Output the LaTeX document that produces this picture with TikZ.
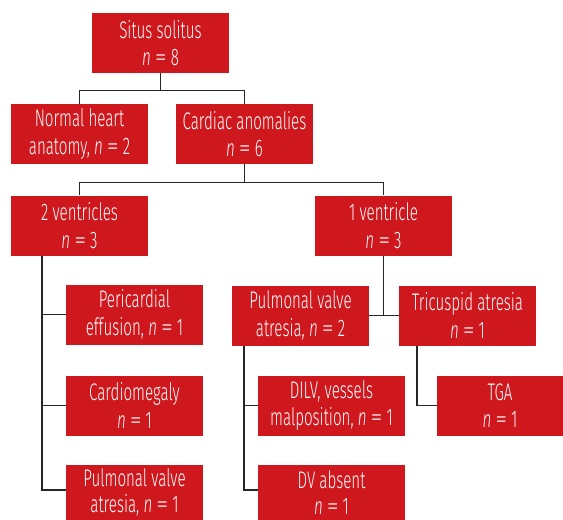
\documentclass[tikz,border=0pt]{standalone}
\usepackage{fontspec}
\setmainfont{Fira Sans Light}[FakeStretch=0.63]
\usepackage{xcolor}
\usepackage{graphicx}
\usepackage{tikz}
\definecolor{boxred}{RGB}{206,24,30}
\tikzset{
  box/.style={fill=boxred, text=white, align=center, minimum width=137pt,
    minimum height=60pt, inner sep=0pt, font=\fontsize{24}{27.5}\selectfont},
  lowbox/.style={box, minimum height=55pt},
  link/.style={line width=1.3pt, black!85}
}
\newcommand{\nval}[1]{\textit{n}\,\scalebox{1.6}[1]{=}\,#1}

\begin{document}
\begin{tikzpicture}[x=1pt,y=-1pt]
\useasboundingbox (0,0) rectangle (563,520);
\clip (0,0) rectangle (563,520);
% Top level
\node[box] (situs) at (160.5,43) {Situs solitus\\\nval{8}};
\node[box] (normal) at (79.5,134) {Normal heart\\anatomy, \nval{2}};
\node[box] (cardiac) at (244.5,134) {Cardiac anomalies\\\nval{6}};

% Ventricles
\node[box] (twov) at (79.5,225.5) {2 ventricles\\\nval{3}};
\node[box] (onev) at (383.5,225.5) {1 ventricle\\\nval{3}};

% Two ventricles branch
\node[box] (peri) at (134.5,314.5) {Pericardial\\effusion, \nval{1}};
\node[box] (cardio) at (134.5,405.5) {Cardiomegaly\\\nval{1}};
\node[lowbox] (pvaone) at (134.5,492.5) {Pulmonal valve\\[-1pt]atresia, \nval{1}};

% One ventricle branch
\node[box] (pvatwo) at (300.5,315.5) {Pulmonal valve\\atresia, \nval{2}};
\node[box] (tricus) at (467.5,315.5) {Tricuspid atresia\\\nval{1}};
\node[box, minimum width=147pt] (dilv) at (331.5,405.5) {DILV, vessels\\malposition, \nval{1}};
\node[lowbox, minimum width=147pt] (dvabs) at (331.5,492.5) {DV absent\\[-1pt]\nval{1}};
\node[box, minimum width=126pt] (tga) at (500,405.5) {TGA\\\nval{1}};

% Connectors
\draw[link] (situs.south) -- ++(0,17) coordinate (topbus);
\draw[link] (normal.north) |- (topbus) -| (cardiac.north);
\draw[link] (cardiac.south) -- ++(0,18) coordinate (midbus);
\draw[link] (twov.north) |- (midbus) -| (onev.north);

\draw[link] ([xshift=-37.5pt]twov.south) |- ([yshift=2.5pt]pvaone.west) coordinate (pvaonein);
\draw[link] ([xshift=-37.5pt]twov.south) |- (peri.west);
\draw[link] ([xshift=-37.5pt]twov.south) |- (cardio.west);

\draw[link] (onev.south) -- (onev.south |- tricus.west);
\draw[link] (pvatwo.east) -- (tricus.west);

\draw[link] ([xshift=-56.5pt]pvatwo.south) |- (dilv.west);
\draw[link] ([xshift=-56.5pt]pvatwo.south) |- ([yshift=2.5pt]dvabs.west);
\draw[link] ([xshift=-50.5pt]tricus.south) |- (tga.west);
\end{tikzpicture}
\end{document}
